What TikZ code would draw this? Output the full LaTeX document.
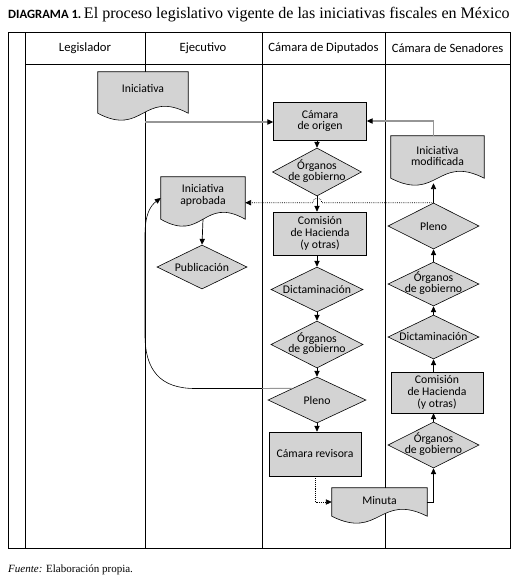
\documentclass[tikz,border=0pt]{standalone}
\usepackage{fontspec}
\setmainfont{Liberation Serif}
\newfontfamily\carl{Carlito}
\usetikzlibrary{shapes.geometric,arrows.meta,calc}
\definecolor{boxgray}{RGB}{211,211,211}
\definecolor{linegray}{RGB}{150,150,150}
\tikzset{
  frame/.style={line width=0.6pt},
  shp/.style={draw, fill=boxgray, line width=0.5pt},
  rbox/.style 2 args={shp, rectangle, inner sep=1pt, align=center, minimum width=#1*0.03cm, minimum height=#2*0.03cm},
  dia/.style 2 args={shp, diamond, inner sep=0pt, minimum width=#1*0.03cm, minimum height=#2*0.03cm},
  docn/.style 2 args={rectangle, inner sep=0pt, minimum width=#1*0.03cm, minimum height=#2*0.03cm},
  lbl/.style={inner sep=0pt, align=center},
  dlbl/.style={inner sep=0pt, align=center, font=\carl\fontsize{10}{9}\selectfont},
  hdr/.style={inner sep=0pt, font=\carl\fontsize{10.8}{12}\selectfont},
  tip/.style={-{Triangle[length=5pt,width=4.5pt,color=black]}},
  arr/.style={tip, line width=0.6pt},
  grayarr/.style={tip, line width=1pt, draw=linegray},
  dotarr/.style={tip, line width=0.6pt, densely dotted},
}
\begin{document}
\begin{tikzpicture}[x=0.03cm,y=-0.03cm, every node/.append style={font=\carl\fontsize{10}{10.2}\selectfont}]
\useasboundingbox (0,0) rectangle (517,586);

% title
\node[anchor=base west, inner sep=0pt] (title) at (8,18) {{\carl\bfseries\fontsize{10.8}{12}\selectfont DIAGRAMA 1.}\ {\rmfamily\fontsize{13.7}{15}\selectfont El proceso legislativo vigente de las iniciativas fiscales en México}};

% table
\draw[frame] (8,32) rectangle (510,548);
\foreach \x in {25,145,262,385} \draw[frame] (\x,32) -- (\x,548);
\draw[frame] (25,64) -- (510,64);
\node[hdr] (h1) at (85,48) {Legislador};
\node[hdr] (h2) at (203,48) {Ejecutivo};
\node[hdr] (h3) at (323.5,48) {Cámara de Diputados};
\node[hdr] (h4) at (447.5,48) {Cámara de Senadores};

% footer
\node[anchor=base west, inner sep=0pt] (src) at (8,572) {\rmfamily\fontsize{9.4}{11}\selectfont\textit{Fuente:} Elaboración propia.};

% document shapes
\node[docn={90}{41}] (ini) at (143,92.5) {};
\node[docn={84}{42}] (aprob) at (203,198) {};
\node[docn={93}{42}] (mod) at (437.5,157) {};
\node[docn={95}{28}] (min) at (379.5,502) {};
\foreach \n in {ini,aprob,mod,min}
  \draw[shp] (\n.north west) -- (\n.north east) -- (\n.south east)
    .. controls ($(\n.south)+(0,-24)$) and ($(\n.south)+(0,24)$) .. (\n.south west) -- cycle;
\node[lbl] (init) at ($(ini)+(0,-4)$) {Iniciativa};
\node[lbl] (aprobt) at ($(aprob)+(0,-3)$) {Iniciativa\\aprobada};
\node[lbl] (modt) at ($(mod)+(0,-1)$) {Iniciativa\\modificada};
\node[lbl] (mint) at ($(min)+(0,-1)$) {Minuta};

% Diputados
\node[rbox={93}{38}] (orig) at (320,121) {Cámara\\de origen};
\node[dia={89}{48}] (og1) at (317,172) {};
\node[dlbl] (og1t) at ($(og1)+(0,-1)$) {Órganos\\de gobierno};
\node[rbox={93}{43}] (com1) at (320,233.5) {Comisión\\de Hacienda\\(y otras)};
\node[dia={92}{45}] (dic1) at (317,289.5) {};
\node[lbl] (dic1t) at (dic1) {Dictaminación};
\node[dia={92}{47}] (og2) at (317,344.5) {};
\node[dlbl] (og2t) at ($(og2)+(0,-1)$) {Órganos\\de gobierno};
\node[dia={98}{46}] (pl1) at (317,400) {};
\node[lbl] (pl1t) at (pl1) {Pleno};
\node[rbox={92}{44}] (rev) at (315,454) {Cámara revisora};

% Ejecutivo
\node[dia={90}{44}] (pub) at (202,267) {};
\node[lbl] (pubt) at (pub) {Publicación};

% Senadores
\node[dia={91}{46}] (pl2) at (433.5,226) {};
\node[lbl] (pl2t) at (pl2) {Pleno};
\node[dia={91}{44}] (og3) at (433.5,284) {};
\node[dlbl] (og3t) at ($(og3)+(0,-1)$) {Órganos\\de gobierno};
\node[dia={91}{44}] (dic2) at (433.5,337) {};
\node[lbl] (dic2t) at (dic2) {Dictaminación};
\node[rbox={92}{41}] (com2) at (437,392.5) {Comisión\\de Hacienda\\(y otras)};
\node[dia={91}{46}] (og4) at (433.5,445) {};
\node[dlbl] (og4t) at ($(og4)+(0,-1)$) {Órganos\\de gobierno};

% connectors
\coordinate (c1) at (145,122);
\draw[grayarr] (c1) -- (c1 -| orig.west);
\draw[grayarr] (pl2.north |- mod.north) -- (pl2.north |- orig.east) -- (orig.east);
\draw[arr] (orig.south -| og1.north) -- (og1.north);
\draw[arr] (og1.south) -- (og1.south |- com1.north);
\draw[arr] (com1.south -| dic1.north) -- (dic1.north);
\draw[arr] (dic1.south) -- (og2.north);
\draw[arr] (og2.south) -- (pl1.north);
\draw[arr] (pl1.south) -- (pl1.south |- rev.north);
\draw[dotarr] (rev.south) -- (rev.south |- min.west) -- (min.west);
\draw[arr] (min.east) -- (og4.south |- min.east) -- (og4.south);
\draw[arr] (og4.north) -- (og4.north |- com2.south);
\draw[arr] (com2.north -| dic2.south) -- (dic2.south);
\draw[arr] (dic2.north) -- (og3.south);
\draw[arr] (og3.north) -- (pl2.south);
\draw[arr] (pl2.north) -- ($(pl2.north |- mod.south)+(0,5)$);
\draw[arr] (aprob.south |- 0,219) -- (pub.north);
\draw[dotarr] (pl2.north) -- ($(og1.south |- pl2.north)+(5,0)$) arc[start angle=0, end angle=180, radius=4pt] -- (aprob.east |- pl2.north);
\coordinate (cj) at (262,388.5);
\draw[line width=0.8pt, draw=linegray] (pl1.north west) -- (cj);
\draw[arr, line width=0.5pt] (cj) -- (195,388.5) .. controls (160,388.5) and (145,370) .. (145,335) -- (145,235) .. controls (145,215) and (150,206) .. (aprob.west);
\end{tikzpicture}
\end{document}
